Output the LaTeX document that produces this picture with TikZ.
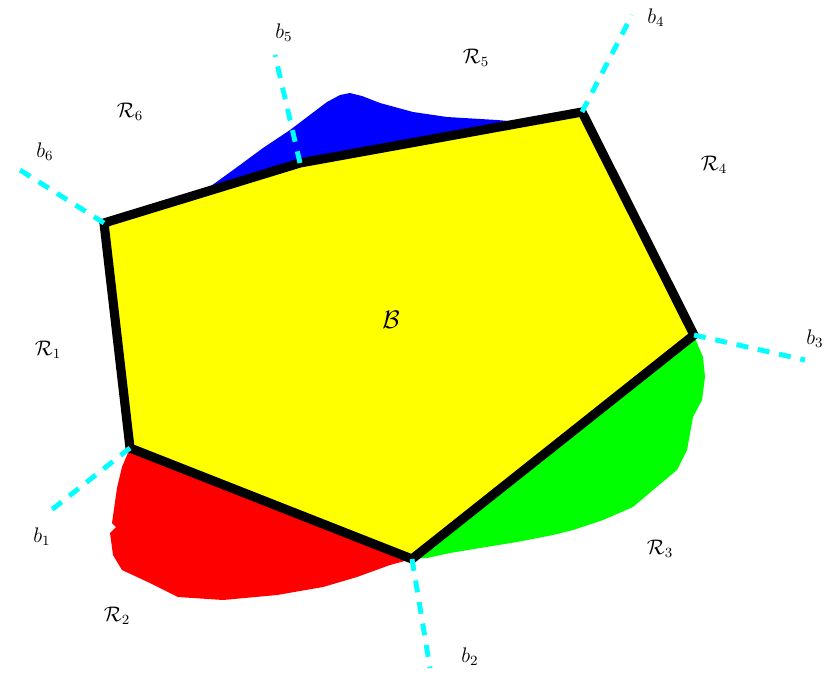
\documentclass[tikz,border=0pt]{standalone}
\usepackage{amsmath,amssymb}
\usetikzlibrary{positioning}
\definecolor{raycyan}{RGB}{0,255,255}
\definecolor{cellyellow}{RGB}{255,255,0}
\definecolor{blobblue}{RGB}{0,0,255}
\definecolor{blobred}{RGB}{255,0,0}
\definecolor{blobgreen}{RGB}{0,255,0}

\begin{document}
\begin{tikzpicture}[x=0.02cm, y=-0.02cm,
  cell/.style={fill=cellyellow, draw=black, line width=5.2pt},
  blob/.style={draw=none},
  ray/.style={raycyan, line width=2.8pt, dash pattern=on 6.8pt off 5.6pt},
  lab/.style={font=\large, inner sep=1pt}
]
\useasboundingbox (0,0) rectangle (827,673);

% vertices of the cell and far ends of the rays
\coordinate (v1) at (130,448);
\coordinate (v2) at (412,559);
\coordinate (v3) at (694,335);
\coordinate (v4) at (582,112);
\coordinate (v5) at (300,163);
\coordinate (v6) at (104,223);
\coordinate (e1) at (45,515);
\coordinate (e2) at (430,668);
\coordinate (e3) at (805,360);
\coordinate (e4) at (632,15);
\coordinate (e5) at (275,55);
\coordinate (e6) at (12,165);

% neighbouring regions
\fill[blob, blobblue] (211,186) -- (240,165) -- (263,148) -- (290,130) -- (327,102)
  -- (340,95) -- (350,93) -- (362,96) -- (380,103) -- (413,112) -- (447,117)
  -- (497,120) -- (520,122) -- (v5) -- cycle;
\fill[blob, blobred] (v1) -- (122,467) -- (117,488) -- (112,523) -- (116,527)
  -- (110,533) -- (113,555) -- (122,570) -- (150,583) -- (178,597) -- (223,600)
  -- (277,595) -- (323,587) -- (357,577) -- (390,565) -- (v2) -- cycle;
\fill[blob, blobgreen] (v3) -- (697,343) -- (703,357) -- (705,377) -- (702,400)
  -- (693,417) -- (687,450) -- (677,470) -- (653,490) -- (633,507) -- (603,520)
  -- (573,530) -- (553,535) -- (517,542) -- (480,548) -- (450,553) -- (427,558)
  -- (v2) -- cycle;

% the cell
\draw[cell] (v1) -- (v2) -- (v3) -- (v4) -- (v5) -- (v6) -- cycle;

% rays
\draw[ray] (v1) -- (e1);
\draw[ray] (v2) -- (e2);
\draw[ray] (v3) -- (e3);
\draw[ray] (v4) -- (e4);
\draw[ray] (v5) -- (e5);
\draw[ray] (v6) -- (e6);

% labels
\node[lab] (b1) at (42,537) {$b_1$};
\node[lab] (b2) at (470,657) {$b_2$};
\node[lab] (b3) at (815,339) {$b_3$};
\node[lab] (b4) at (656,18) {$b_4$};
\node[lab] (b5) at (284,33) {$b_5$};
\node[lab] (b6) at (45,152) {$b_6$};
\node[lab] (r1) at (48,350) {$\mathcal{R}_1$};
\node[lab] (r2) at (117,616) {$\mathcal{R}_2$};
\node[lab] (r3) at (660,549) {$\mathcal{R}_3$};
\node[lab] (r4) at (714,165) {$\mathcal{R}_4$};
\node[lab] (r5) at (476,58) {$\mathcal{R}_5$};
\node[lab] (r6) at (130,112) {$\mathcal{R}_6$};
\node[lab, font=\Large] (cb) at (391,320) {$\mathcal{B}$};
\end{tikzpicture}
\end{document}
